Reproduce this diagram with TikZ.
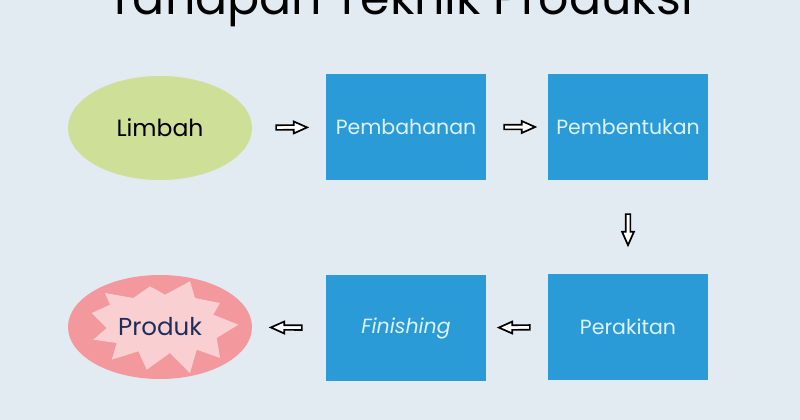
\documentclass[tikz,border=0pt]{standalone}
\usepackage{fontspec}
\setmainfont{Poppins}
\usetikzlibrary{shapes.geometric,shapes.arrows}
\definecolor{bg}{HTML}{E2EAF2}
\definecolor{boxblue}{HTML}{2B9BD8}
\definecolor{boxtext}{HTML}{DDF3FF}
\definecolor{limegreen}{HTML}{CEDF98}
\definecolor{pinkout}{HTML}{F3989C}
\definecolor{pinkin}{HTML}{F9CFD1}
\definecolor{navy}{HTML}{1F2D5A}
\tikzset{
  stepbox/.style={rectangle, fill=boxblue, minimum width=160pt, minimum height=106pt,
    text=boxtext, font=\fontsize{20.5}{24}\selectfont, inner sep=0pt},
  oval/.style={ellipse, minimum width=184pt, minimum height=104pt, inner sep=0pt,
    font=\fontsize{23.5}{28}\selectfont},
  blockarrow/.style={single arrow, draw=black, fill=white, line width=1.7pt,
    minimum height=31pt, minimum width=0pt, inner sep=1.5pt,
    single arrow head extend=3.6pt, single arrow tip angle=48,
    sloped, allow upside down},
}
\begin{document}
\begin{tikzpicture}[x=1pt,y=-1pt]
\useasboundingbox[fill=bg] (0,0) rectangle (800,420);
\node[font=\fontsize{47.5}{54}\selectfont, anchor=base] (title) at (400,15) {Tahapan Teknik Produksi};
\node[oval, fill=limegreen] (limbah) at (160,128) {Limbah};
\node[stepbox] (pembahanan) at (406,127) {Pembahanan};
\node[stepbox] (pembentukan) at (628,127) {Pembentukan};
\node[stepbox] (perakitan) at (628,327) {Perakitan};
\node[stepbox, font=\fontsize{20.5}{24}\selectfont\itshape] (finishing) at (406,328) {Finishing};
\node[oval, fill=pinkout] (produk) at (160,327) {};
\fill[pinkin] (91.7,313) -- (110,304.7) -- (105,293) -- (133.3,298) -- (150,286.3)
  -- (165,294.7) -- (190,281.3) -- (195,298) -- (220,303) -- (213.3,314.7)
  -- (238.3,324.7) -- (216.7,338) -- (220,358) -- (196.7,349.7) -- (190,373)
  -- (170,353) -- (146.7,369.7) -- (138.3,351.3) -- (111.7,359.7) -- (116.7,343)
  -- (93.3,339.7) -- (106.7,328) -- cycle;
\node[text=navy, font=\fontsize{24.5}{28}\selectfont, inner sep=0pt] (produktext) at (produk.center) {Produk};
\path (limbah) -- node[blockarrow]{} (pembahanan);
\path (pembahanan) -- node[blockarrow]{} (pembentukan);
\path (pembentukan) -- node[blockarrow]{} (perakitan);
\path (perakitan) -- node[blockarrow]{} (finishing);
\path (finishing) -- node[blockarrow]{} (produk);
\end{tikzpicture}
\end{document}
